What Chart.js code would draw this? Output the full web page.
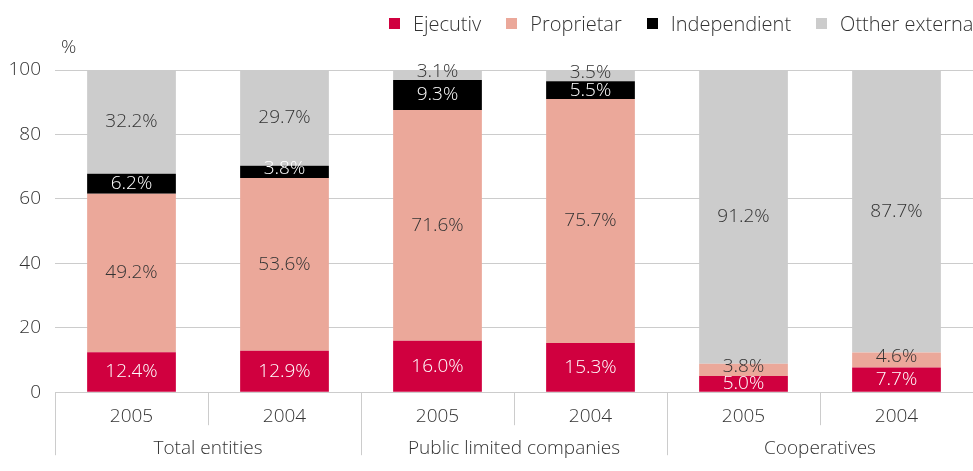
<!DOCTYPE html>
<html>
<head>
<meta charset="utf-8">
<script src="https://cdn.jsdelivr.net/npm/chart.js@4/dist/chart.umd.min.js"></script>
<style>
    body { margin: 0; overflow: hidden; background: #fff; font-family: "Open Sans", sans-serif; }
    #wrap { position: relative; width: 973px; height: 471px; overflow: hidden; }
    #legend { position: absolute; top: 10px; left: 389px; white-space: nowrap; font-size: 20px; font-weight: 300; color: #333; }
    #legend span.item { margin-right: 25px; }
    #legend i { display: inline-block; width: 11px; height: 11px; margin-right: 13px; vertical-align: 2px; }
    #pct { position: absolute; left: 61px; top: 33px; font-size: 19px; font-weight: 300; color: #333; }
</style>
</head>
<body>
<div id="wrap">
    <canvas id="myChart" width="973" height="471"></canvas>
    <div id="legend"></div>
    <div id="pct">%</div>
</div>
<script>
let years = ['2005', '2004', '2005', '2004', '2005', '2004'];
let groups = ['Total entities', 'Public limited companies', 'Cooperatives'];
let seriesNames = ['Ejecutiv', 'Proprietar', 'Independient', 'Otther externa'];
let ejecutiv = [12.4, 12.9, 16.0, 15.3, 5.0, 7.7];
let proprietar = [49.2, 53.6, 71.6, 75.7, 3.8, 4.6];
let independient = [6.2, 3.8, 9.3, 5.5, 0, 0];
let other = [32.2, 29.7, 3.1, 3.5, 91.2, 87.7];
let yTicks = [0, 20, 40, 60, 80, 100];

const colors = ['#d0003f', '#eba89a', '#000000', '#cccccc'];
const labelColors = ['#ffffff', '#333333', '#ffffff', '#333333'];
const textColor = '#333333';
const fontFamily = '"Open Sans", sans-serif';


function renderLegend() {
    let legend = document.getElementById('legend');
    legend.innerHTML = '';
    for (let i = 0; i < seriesNames.length; i++) {
        legend.innerHTML += `<span class="item"><i style="background:${colors[i]}"></i>${seriesNames[i]}</span>`;
    }
}


const valueLabels = {
    id: 'valueLabels',
    afterDatasetsDraw(chart) {
        const ctx = chart.ctx;
        ctx.save();
        ctx.font = `300 19px ${fontFamily}`;
        ctx.textAlign = 'center';
        ctx.textBaseline = 'middle';
        chart.data.datasets.forEach((ds, d) => {
            chart.getDatasetMeta(d).data.forEach((bar, i) => {
                let v = ds.data[i];
                if (!v) return;
                let y = (bar.y + bar.base) / 2;
                if (v < 5) y -= 3;
                ctx.fillStyle = labelColors[d];
                ctx.fillText(v.toFixed(1) + '%', bar.x, y);
            });
        });
        ctx.restore();
    }
};


const groupAxis = {
    id: 'groupAxis',
    afterDraw(chart) {
        const ctx = chart.ctx;
        const x = chart.scales.x;
        const bottom = chart.chartArea.bottom;
        const step = (x.right - x.left) / years.length;
        ctx.save();
        ctx.strokeStyle = '#cccccc';
        ctx.lineWidth = 1;
        for (let i = 0; i < years.length; i++) {
            let px = Math.round(x.left + i * step) + 0.5;
            let len = i % 2 == 0 ? 63 : 33;
            ctx.beginPath();
            ctx.moveTo(px, bottom);
            ctx.lineTo(px, bottom + len);
            ctx.stroke();
        }
        ctx.font = `300 19px ${fontFamily}`;
        ctx.fillStyle = textColor;
        ctx.textAlign = 'center';
        ctx.textBaseline = 'middle';
        for (let g = 0; g < groups.length; g++) {
            let cx = x.left + (g * 2 + 1) * step;
            ctx.fillText(groups[g], cx, bottom + 56);
        }
        ctx.restore();
    }
};


function createChart() {
    const ctx = document.getElementById('myChart').getContext('2d');
    const values = [ejecutiv, proprietar, independient, other];
    new Chart(ctx, {
        type: 'bar',
        data: {
            labels: years,
            datasets: seriesNames.map((name, i) => ({
                label: name,
                data: values[i],
                backgroundColor: colors[i],
                categoryPercentage: 1,
                barPercentage: 0.58
            }))
        },
        options: {
            responsive: false,
            animation: false,
            layout: { padding: { top: 70, right: 0, bottom: 38, left: 0 } },
            plugins: { legend: { display: false }, tooltip: { enabled: false } },
            scales: {
                x: {
                    stacked: true,
                    grid: { display: false },
                    border: { display: false },
                    ticks: { color: textColor, font: { family: fontFamily, size: 19, weight: 300 }, padding: 5 }
                },
                y: {
                    stacked: true,
                    min: 0,
                    max: 100,
                    afterFit(scale) { scale.width = 55; },
                    afterBuildTicks(scale) { scale.ticks = yTicks.map(v => ({ value: v })); },
                    grid: { color: '#cccccc', drawTicks: false },
                    border: { display: false },
                    ticks: { color: textColor, font: { family: fontFamily, size: 19, weight: 300 }, padding: 14 }
                }
            }
        },
        plugins: [valueLabels, groupAxis]
    });
}


renderLegend();
createChart();
</script>
</body>
</html>
